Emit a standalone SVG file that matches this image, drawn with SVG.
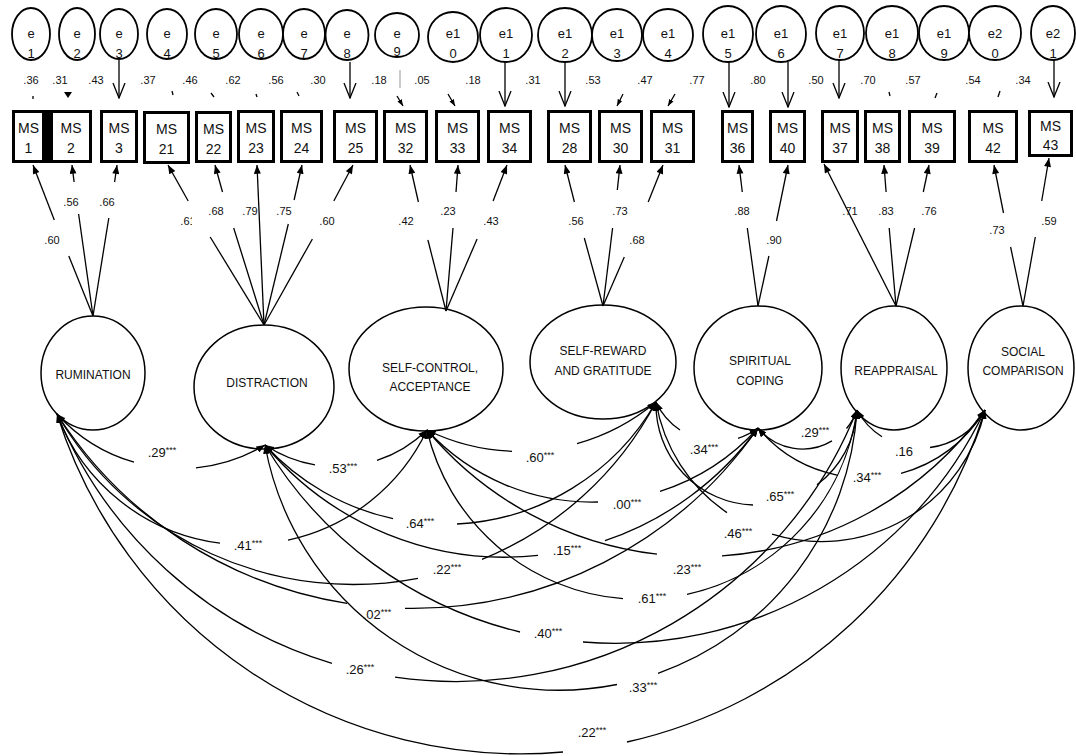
<svg xmlns="http://www.w3.org/2000/svg" width="1076" height="756" viewBox="0 0 1076 756">
<defs>
<style>
.bx{fill:#fff;stroke:#000;stroke-width:3}
.er{fill:#fff;stroke:#000;stroke-width:1.8}
.lv{fill:#fff;stroke:#000;stroke-width:1.5}
.ln{fill:none;stroke:#000;stroke-width:1.3}
.cv{fill:none;stroke:#000;stroke-width:1.3;marker-start:url(#hc);marker-end:url(#hc)}
.ld{marker-end:url(#hl)}
.ea{marker-end:url(#ho)}
.sa{marker-end:url(#hs)}
text{font-family:"Liberation Sans",Arial,sans-serif;fill:#111}
.t14{font-size:14px;text-anchor:middle}
.t13{font-size:13px;text-anchor:middle}
.t12{font-size:12px;text-anchor:middle}
.t11{font-size:11px;text-anchor:middle}
.st{font-size:9px}
</style>
<marker id="hc" viewBox="0 0 10 8" refX="10" refY="4" markerWidth="9" markerHeight="7" markerUnits="userSpaceOnUse" orient="auto-start-reverse"><path d="M0,0L10,4L0,8z"/></marker>
<marker id="hl" viewBox="0 0 10 8" refX="10" refY="4" markerWidth="10" markerHeight="7" markerUnits="userSpaceOnUse" orient="auto"><path d="M0,0L10,4L0,8z"/></marker>
<marker id="hs" viewBox="0 0 8 6" refX="8" refY="3" markerWidth="7" markerHeight="5" markerUnits="userSpaceOnUse" orient="auto"><path d="M0,0L8,3L0,6z"/></marker>
<marker id="ho" viewBox="0 0 16 14" refX="15" refY="7" markerWidth="16" markerHeight="14" markerUnits="userSpaceOnUse" orient="auto"><path d="M0,1L15,7L0,13" fill="none" stroke="#000" stroke-width="1.3"/></marker>
<clipPath id="cut61"><rect x="170" y="205" width="22" height="25"/></clipPath>
</defs>
<rect width="1076" height="756" fill="#fff"/>

<!-- error terms -->
<g id="e1"><ellipse class="er" cx="31" cy="34" rx="19" ry="26"/><text class="t13" x="31" y="38">e</text><text class="t13" x="31" y="58">1</text></g>
<g id="e2"><ellipse class="er" cx="77" cy="34" rx="18" ry="26"/><text class="t13" x="77" y="38">e</text><text class="t13" x="77" y="58">2</text></g>
<g id="e3"><ellipse class="er" cx="119" cy="34" rx="19" ry="25"/><text class="t13" x="119" y="38">e</text><text class="t13" x="119" y="58">3</text></g>
<g id="e4"><ellipse class="er" cx="167" cy="34" rx="20" ry="25"/><text class="t13" x="167" y="38">e</text><text class="t13" x="167" y="58">4</text></g>
<g id="e5"><ellipse class="er" cx="216" cy="34" rx="21" ry="25"/><text class="t13" x="216" y="38">e</text><text class="t13" x="216" y="58">5</text></g>
<g id="e6"><ellipse class="er" cx="261" cy="34" rx="22" ry="25"/><text class="t13" x="261" y="38">e</text><text class="t13" x="261" y="58">6</text></g>
<g id="e7"><ellipse class="er" cx="304" cy="34" rx="21" ry="25"/><text class="t13" x="304" y="38">e</text><text class="t13" x="304" y="58">7</text></g>
<g id="e8"><ellipse class="er" cx="347" cy="35" rx="21.5" ry="25"/><text class="t13" x="347" y="38">e</text><text class="t13" x="347" y="58">8</text></g>
<g id="e9"><ellipse class="er" cx="397" cy="35" rx="22" ry="22"/><text class="t13" x="397" y="38">e</text><text class="t13" x="397" y="56">9</text></g>
<g id="e10"><ellipse class="er" cx="453" cy="37" rx="25" ry="25"/><text class="t13" x="453" y="38">e1</text><text class="t13" x="453" y="58">0</text></g>
<g id="e11"><ellipse class="er" cx="506" cy="35" rx="26" ry="27"/><text class="t13" x="506" y="38">e1</text><text class="t13" x="506" y="58">1</text></g>
<g id="e12"><ellipse class="er" cx="565" cy="35" rx="27" ry="27"/><text class="t13" x="565" y="38">e1</text><text class="t13" x="565" y="58">2</text></g>
<g id="e13"><ellipse class="er" cx="617" cy="35" rx="25" ry="26"/><text class="t13" x="617" y="38">e1</text><text class="t13" x="617" y="58">3</text></g>
<g id="e14"><ellipse class="er" cx="668" cy="35" rx="25" ry="26"/><text class="t13" x="668" y="38">e1</text><text class="t13" x="668" y="58">4</text></g>
<g id="e15"><ellipse class="er" cx="728" cy="34" rx="25" ry="28"/><text class="t13" x="728" y="38">e1</text><text class="t13" x="728" y="58">5</text></g>
<g id="e16"><ellipse class="er" cx="781" cy="34" rx="25" ry="28"/><text class="t13" x="781" y="38">e1</text><text class="t13" x="781" y="58">6</text></g>
<g id="e17"><ellipse class="er" cx="840" cy="33" rx="24" ry="27"/><text class="t13" x="840" y="38">e1</text><text class="t13" x="840" y="58">7</text></g>
<g id="e18"><ellipse class="er" cx="892" cy="33" rx="26" ry="27"/><text class="t13" x="892" y="38">e1</text><text class="t13" x="892" y="58">8</text></g>
<g id="e19"><ellipse class="er" cx="944" cy="33" rx="25" ry="27"/><text class="t13" x="944" y="38">e1</text><text class="t13" x="944" y="58">9</text></g>
<g id="e20"><ellipse class="er" cx="995" cy="33" rx="26" ry="27"/><text class="t13" x="995" y="38">e2</text><text class="t13" x="995" y="58">0</text></g>
<g id="e21"><ellipse class="er" cx="1053" cy="33" rx="22" ry="27"/><text class="t13" x="1053" y="38">e2</text><text class="t13" x="1053" y="58">1</text></g>

<!-- observed indicators -->
<g id="ms1"><rect class="bx" x="13.5" y="111.5" width="30" height="50"/><text class="t14" x="28.5" y="133">MS</text><text class="t14" x="28.5" y="153">1</text></g>
<g id="ms2"><rect x="45" y="110" width="6" height="53" fill="#000"/><rect class="bx" x="51.5" y="111.5" width="39" height="50"/><text class="t14" x="71" y="133">MS</text><text class="t14" x="71" y="153">2</text></g>
<g id="ms3"><rect class="bx" x="101.5" y="111.5" width="35" height="50"/><text class="t14" x="119" y="133">MS</text><text class="t14" x="119" y="153">3</text></g>
<g id="ms21"><rect class="bx" x="144.5" y="112.5" width="44" height="50"/><text class="t14" x="166.5" y="134">MS</text><text class="t14" x="166.5" y="154">21</text></g>
<g id="ms22"><rect class="bx" x="196.5" y="112.5" width="34" height="49"/><text class="t14" x="213.5" y="134">MS</text><text class="t14" x="213.5" y="154">22</text></g>
<g id="ms23"><rect class="bx" x="238.5" y="111.5" width="35" height="50"/><text class="t14" x="256" y="133">MS</text><text class="t14" x="256" y="153">23</text></g>
<g id="ms24"><rect class="bx" x="281.5" y="111.5" width="40" height="50"/><text class="t14" x="301.5" y="133">MS</text><text class="t14" x="301.5" y="153">24</text></g>
<g id="ms25"><rect class="bx" x="334.5" y="111.5" width="42" height="50"/><text class="t14" x="355.5" y="133">MS</text><text class="t14" x="355.5" y="153">25</text></g>
<g id="ms32"><rect class="bx" x="384.5" y="111.5" width="42" height="50"/><text class="t14" x="405.5" y="133">MS</text><text class="t14" x="405.5" y="153">32</text></g>
<g id="ms33"><rect class="bx" x="436.5" y="111.5" width="42" height="50"/><text class="t14" x="457.5" y="133">MS</text><text class="t14" x="457.5" y="153">33</text></g>
<g id="ms34"><rect class="bx" x="488.5" y="111.5" width="42" height="50"/><text class="t14" x="509.5" y="133">MS</text><text class="t14" x="509.5" y="153">34</text></g>
<g id="ms28"><rect class="bx" x="548.5" y="111.5" width="42" height="50"/><text class="t14" x="569.5" y="133">MS</text><text class="t14" x="569.5" y="153">28</text></g>
<g id="ms30"><rect class="bx" x="599.5" y="111.5" width="42" height="50"/><text class="t14" x="620.5" y="133">MS</text><text class="t14" x="620.5" y="153">30</text></g>
<g id="ms31"><rect class="bx" x="651.5" y="111.5" width="42" height="50"/><text class="t14" x="672.5" y="133">MS</text><text class="t14" x="672.5" y="153">31</text></g>
<g id="ms36"><rect class="bx" x="722.5" y="111.5" width="30" height="50"/><text class="t14" x="737.5" y="133">MS</text><text class="t14" x="737.5" y="153">36</text></g>
<g id="ms40"><rect class="bx" x="770.5" y="111.5" width="34" height="50"/><text class="t14" x="787.5" y="133">MS</text><text class="t14" x="787.5" y="153">40</text></g>
<g id="ms37"><rect class="bx" x="822.5" y="111.5" width="35" height="50"/><text class="t14" x="840" y="133">MS</text><text class="t14" x="840" y="153">37</text></g>
<g id="ms38"><rect class="bx" x="865.5" y="111.5" width="34" height="50"/><text class="t14" x="882.5" y="133">MS</text><text class="t14" x="882.5" y="153">38</text></g>
<g id="ms39"><rect class="bx" x="909.5" y="111.5" width="45" height="50"/><text class="t14" x="932" y="133">MS</text><text class="t14" x="932" y="153">39</text></g>
<g id="ms42"><rect class="bx" x="969.5" y="111.5" width="47" height="50"/><text class="t14" x="993" y="133">MS</text><text class="t14" x="993" y="153">42</text></g>
<g id="ms43"><rect class="bx" x="1029.5" y="111.5" width="42" height="44"/><text class="t14" x="1050.5" y="131">MS</text><text class="t14" x="1050.5" y="150">43</text></g>

<!-- latent factors -->
<g id="rumination"><ellipse class="lv" cx="93" cy="373" rx="52" ry="57"/><text class="t12" x="93" y="379">RUMINATION</text></g>
<g id="distraction"><ellipse class="lv" cx="264" cy="387" rx="70" ry="62"/><text class="t12" x="267" y="387">DISTRACTION</text></g>
<g id="self-control"><ellipse class="lv" cx="426" cy="369" rx="77" ry="62"/><text class="t12" x="430" y="372">SELF-CONTROL,</text><text class="t12" x="430" y="391">ACCEPTANCE</text></g>
<g id="self-reward"><ellipse class="lv" cx="603" cy="362" rx="73" ry="57"/><text class="t12" x="603" y="355">SELF-REWARD</text><text class="t12" x="603" y="375">AND GRATITUDE</text></g>
<g id="spiritual"><ellipse class="lv" cx="758" cy="368" rx="64" ry="62"/><text class="t12" x="760" y="365">SPIRITUAL</text><text class="t12" x="760" y="385">COPING</text></g>
<g id="reappraisal"><ellipse class="lv" cx="894" cy="368" rx="53" ry="62"/><text class="t12" x="896" y="375">REAPPRAISAL</text></g>
<g id="social"><ellipse class="lv" cx="1021" cy="368" rx="53" ry="62"/><text class="t12" x="1023" y="356">SOCIAL</text><text class="t12" x="1023" y="375">COMPARISON</text></g>

<g id="connectors">
<!-- error paths -->
<g class="ln">
<line class="ea" x1="119" y1="60" x2="119" y2="98"/>
<line class="ea" x1="350" y1="62" x2="350" y2="98"/>
<line class="ea" x1="505" y1="62" x2="505" y2="106"/>
<line class="ea" x1="565" y1="62" x2="565" y2="106"/>
<line class="ea" x1="729" y1="62" x2="729" y2="107"/>
<line class="ea" x1="788" y1="62" x2="788" y2="107"/>
<line class="ea" x1="839" y1="60" x2="839" y2="98"/>
<line class="ea" x1="1054" y1="60" x2="1054" y2="97"/>
<line x1="400" y1="70" x2="400" y2="88" stroke="#999" stroke-width="1"/>
<line class="sa" x1="397" y1="96" x2="403" y2="106"/>
<line class="sa" x1="448" y1="94" x2="455" y2="106"/>
<line class="sa" x1="623" y1="94" x2="617" y2="106"/>
<line class="sa" x1="675" y1="94" x2="668" y2="106"/>
<line x1="33" y1="96" x2="33" y2="99"/>
<line x1="172" y1="91" x2="173" y2="95"/>
<line x1="211" y1="93" x2="214" y2="97"/>
<line x1="256" y1="94" x2="257" y2="97"/>
<line x1="297" y1="92" x2="299" y2="96"/>
<line x1="889" y1="92" x2="890" y2="96"/>
<line x1="937" y1="93" x2="935" y2="98"/>
<line x1="1000" y1="91" x2="998" y2="97"/>
</g>
<path d="M64,92L72,92L68,98z" fill="#000"/>

<!-- factor loadings -->
<g class="ln">
<line class="ld" x1="54.3" y1="220" x2="33" y2="165"/><line x1="93" y1="316" x2="68.8" y2="256"/>
<line class="ld" x1="74.1" y1="182" x2="72" y2="165"/><line x1="93" y1="316" x2="78.6" y2="214"/>
<line class="ld" x1="114.6" y1="182" x2="117" y2="165"/><line x1="93" y1="316" x2="108.8" y2="218"/>
<line class="ld" x1="188.2" y1="201" x2="168" y2="165"/><line x1="264" y1="325" x2="210.2" y2="237"/>
<line class="ld" x1="222.5" y1="192" x2="215" y2="165"/><line x1="264" y1="325" x2="233.7" y2="228"/>
<line class="ld" x1="264" y1="325" x2="257" y2="165"/>
<line class="ld" x1="294.1" y1="200" x2="302" y2="165"/><line x1="264" y1="325" x2="288.3" y2="224"/>
<line class="ld" x1="333.8" y1="201" x2="353" y2="165"/><line x1="264" y1="325" x2="312.4" y2="239"/>
<line class="ld" x1="418.4" y1="202" x2="410" y2="165"/><line x1="446" y1="311" x2="427.9" y2="240"/>
<line class="ld" x1="456" y1="192" x2="458" y2="165"/><line x1="446" y1="311" x2="453" y2="228"/>
<line class="ld" x1="493.1" y1="201" x2="507" y2="165"/><line x1="446" y1="311" x2="477.1" y2="239"/>
<line class="ld" x1="574.4" y1="202" x2="565" y2="165"/><line x1="603" y1="306" x2="584.3" y2="238"/>
<line class="ld" x1="617.3" y1="190" x2="620" y2="165"/><line x1="603" y1="306" x2="612.6" y2="228"/>
<line class="ld" x1="648.2" y1="202" x2="663" y2="165"/><line x1="603" y1="306" x2="624.3" y2="257"/>
<line class="ld" x1="742.3" y1="192" x2="739" y2="165"/><line x1="758" y1="306" x2="747.3" y2="228"/>
<line class="ld" x1="776.5" y1="221" x2="788" y2="165"/><line x1="758" y1="306" x2="768.9" y2="256"/>
<line class="ld" x1="896" y1="306" x2="824" y2="164"/>
<line class="ld" x1="886.1" y1="192" x2="884" y2="165"/><line x1="896" y1="306" x2="889.2" y2="228"/>
<line class="ld" x1="923.3" y1="192" x2="929" y2="165"/><line x1="896" y1="306" x2="914.6" y2="228"/>
<line class="ld" x1="1003.5" y1="213" x2="994" y2="165"/><line x1="1023" y1="306" x2="1010.6" y2="247"/>
<line class="ld" x1="1041.7" y1="201" x2="1049" y2="158"/><line x1="1023" y1="306" x2="1035.3" y2="237"/>
</g>

<!-- factor covariances -->
<path class="cv" d="M57,414A165.2,165.2 0 0 0 134,462.2M196,467.9A165.2,165.2 0 0 0 265,445"/>
<path class="cv" d="M265,445A128.8,128.8 0 0 0 315,464.9M377,460.4A128.8,128.8 0 0 0 427,430"/>
<path class="cv" d="M427,430A212.1,212.1 0 0 0 512,451.3M577,443.6A212.1,212.1 0 0 0 656,402"/>
<path class="cv" d="M656,402A67.9,67.9 0 0 0 680,430M738,438.3A67.9,67.9 0 0 0 758,428"/>
<path class="cv" d="M758,428A57.5,57.5 0 0 0 832,440.9M846.5,428.5A57.5,57.5 0 0 0 857,410"/>
<path class="cv" d="M857,410A72.9,72.9 0 0 0 882,436.8M930,447.5A72.9,72.9 0 0 0 985,410"/>
<path class="cv" d="M57,414A201.1,201.1 0 0 0 220,543.2M288,540.2A201.1,201.1 0 0 0 427,430"/>
<path class="cv" d="M265,445A243.5,243.5 0 0 0 393,518.7M457,524A243.5,243.5 0 0 0 656,402"/>
<path class="cv" d="M427,430A223.8,223.8 0 0 0 598,502M660,491.4A223.8,223.8 0 0 0 758,428"/>
<path class="cv" d="M656,402A100.6,100.6 0 0 0 753,505M817,484.8A100.6,100.6 0 0 0 857,410"/>
<path class="cv" d="M758,428A139.5,139.5 0 0 0 838,475.3M901,473.3A139.5,139.5 0 0 0 985,410"/>
<path class="cv" d="M57,414A342.5,342.5 0 0 0 418,578.3M482,559.4A342.5,342.5 0 0 0 656,402"/>
<path class="cv" d="M265,445A312.6,312.6 0 0 0 538,555.4M605,540.7A312.6,312.6 0 0 0 758,428"/>
<path class="cv" d="M427,430A218.8,218.8 0 0 0 623,598.7M687,594.3A218.8,218.8 0 0 0 857,410"/>
<path class="cv" d="M656,402A167.6,167.6 0 0 0 727,512.6M772,534.2A167.6,167.6 0 0 0 985,410"/>
<path class="cv" d="M57,414A421.4,421.4 0 0 0 347,603.4M405,608.4A421.4,421.4 0 0 0 758,428"/>
<path class="cv" d="M427,430A353.9,353.9 0 0 0 657,554.2M722,555.8A353.9,353.9 0 0 0 985,410"/>
<path class="cv" d="M265,445A298.7,298.7 0 0 0 617,684.5M658,673.3A298.7,298.7 0 0 0 857,410"/>
<path class="cv" d="M57,414A431.6,431.6 0 0 0 332,663.3M395,677.2A431.6,431.6 0 0 0 857,410"/>
<path class="cv" d="M265,445A409.2,409.2 0 0 0 520,632M583,642A409.2,409.2 0 0 0 985,410"/>
<path class="cv" d="M57,414A485.9,485.9 0 0 0 563,752M627,742A485.9,485.9 0 0 0 985,410"/>
</g>

<!-- error variances -->
<g class="t11">
<text x="31" y="84">.36</text><text x="60" y="84">.31</text><text x="96" y="84">.43</text>
<text x="148" y="84">.37</text><text x="190" y="84">.46</text><text x="233" y="84">.62</text>
<text x="276" y="84">.56</text><text x="318" y="84">.30</text><text x="379" y="84">.18</text>
<text x="422" y="84">.05</text><text x="473" y="84">.18</text><text x="533" y="84">.31</text>
<text x="593" y="84">.53</text><text x="645" y="84">.47</text><text x="697" y="84">.77</text>
<text x="758" y="84">.80</text><text x="816" y="84">.50</text><text x="868" y="84">.70</text>
<text x="913" y="84">.57</text><text x="973" y="84">.54</text><text x="1023" y="84">.34</text>
</g>

<!-- loading values -->
<g class="t11">
<text x="52" y="244">.60</text><text x="71" y="206">.56</text><text x="107" y="206">.66</text>
<text x="188" y="225" clip-path="url(#cut61)">.61</text><text x="216" y="215">.68</text><text x="250" y="215">.79</text>
<text x="284" y="215">.75</text><text x="327" y="225">.60</text>
<text x="406" y="225">.42</text><text x="448" y="215">.23</text><text x="491" y="225">.43</text>
<text x="576" y="225">.56</text><text x="620" y="215">.73</text><text x="637" y="244">.68</text>
<text x="742" y="215">.88</text><text x="774" y="244">.90</text>
<text x="850" y="215">.71</text><text x="886" y="215">.83</text><text x="929" y="215">.76</text>
<text x="997" y="234">.73</text><text x="1049" y="225">.59</text>
</g>

<!-- covariance values -->
<g class="t13">
<text x="162" y="457">.29<tspan class="st" dy="-4">***</tspan></text>
<text x="343" y="473">.53<tspan class="st" dy="-4">***</tspan></text>
<text x="540" y="462">.60<tspan class="st" dy="-4">***</tspan></text>
<text x="704" y="454">.34<tspan class="st" dy="-4">***</tspan></text>
<text x="815" y="437">.29<tspan class="st" dy="-4">***</tspan></text>
<text x="904" y="456">.16</text>
<text x="248" y="550">.41<tspan class="st" dy="-4">***</tspan></text>
<text x="420" y="528">.64<tspan class="st" dy="-4">***</tspan></text>
<text x="627" y="509">.00<tspan class="st" dy="-4">***</tspan></text>
<text x="780" y="501">.65<tspan class="st" dy="-4">***</tspan></text>
<text x="867" y="482">.34<tspan class="st" dy="-4">***</tspan></text>
<text x="447" y="574">.22<tspan class="st" dy="-4">***</tspan></text>
<text x="567" y="555">.15<tspan class="st" dy="-4">***</tspan></text>
<text x="652" y="603">.61<tspan class="st" dy="-4">***</tspan></text>
<text x="738" y="538">.46<tspan class="st" dy="-4">***</tspan></text>
<text x="377" y="619">.02<tspan class="st" dy="-4">***</tspan></text>
<text x="687" y="574">.23<tspan class="st" dy="-4">***</tspan></text>
<text x="548" y="638">.40<tspan class="st" dy="-4">***</tspan></text>
<text x="360" y="674">.26<tspan class="st" dy="-4">***</tspan></text>
<text x="643" y="692">.33<tspan class="st" dy="-4">***</tspan></text>
<text x="592" y="737">.22<tspan class="st" dy="-4">***</tspan></text>
</g>
</svg>
